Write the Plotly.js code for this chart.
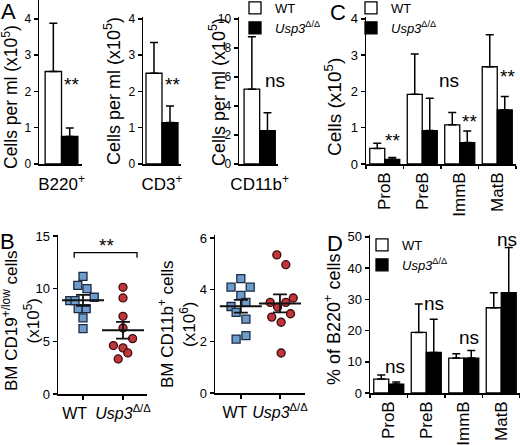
<!DOCTYPE html>
<html><head><meta charset="utf-8">
<script src="https://cdn.plot.ly/plotly-3.0.1.min.js"></script>
<style>html,body{margin:0;padding:0;background:#fff}#plot{width:520px;height:445px}</style>
</head><body><div id="plot"></div>
<script>
// ---------- data ----------
// Panel A: cells per ml (x10^5)
const catA1 = ['B220<sup>+</sup>'];
const catA2 = ['CD3<sup>+</sup>'];
const catA3 = ['CD11b<sup>+</sup>'];
const wtA = [2.55, 2.50, 5.16];
const koA = [0.76, 1.14, 2.30];
const wtAerr = [1.33, 0.85, 3.62];
const koAerr = [0.23, 0.46, 1.24];

// Panel B: BM CD19+/low (x10^5) and CD11b+ (x10^6)
const groupsB = ['WT', '<i>Usp3</i><sup>Δ/Δ</sup>'];
const wtCD19 = [11.18, 10.32, 10.0, 9.19, 8.87, 8.87, 8.1, 8.1, 7.23, 6.21];
const wtCD19jit = [0, -0.13, 0.1, 0.28, -0.33, -0.2, -0.12, 0.08, 0, 0];
const koCD19 = [10.13, 9.12, 7.38, 6.27, 5.26, 4.6, 4.38, 3.9, 3.33];
const koCD19jit = [0, 0, 0, 0, 0.24, -0.24, 0, 0.12, -0.12];
const meanCD19 = [8.9, 6.05];
const semCD19 = [0.52, 0.8];
const wtCD11 = [4.43, 4.10, 4.10, 3.78, 3.51, 3.35, 3.12, 2.86, 2.22, 2.09];
const wtCD11jit = [0, -0.25, 0.24, 0, 0.13, -0.25, -0.12, 0.13, 0.13, -0.12];
const koCD11 = [5.35, 4.97, 3.51, 3.51, 3.68, 3.33, 2.94, 3.07, 2.74, 1.55];
const koCD11jit = [-0.08, 0.15, -0.25, 0.15, 0.34, -0.06, -0.21, 0.27, 0.03, 0.03];
const meanCD11 = [3.36, 3.47];
const semCD11 = [0.25, 0.35];

// Panel C: cells (x10^5); Panel D: % of B220+ cells
const catCD = ['ProB', 'PreB', 'ImmB', 'MatB'];
const wtC = [0.43, 1.92, 1.08, 2.68];
const koC = [0.13, 0.92, 0.59, 1.49];
const wtCerr = [0.14, 1.11, 0.34, 0.88];
const koCerr = [0.05, 0.89, 0.32, 0.37];
const wtD = [4.47, 19.4, 11.2, 27.3];
const koD = [2.87, 13.0, 11.2, 32.1];
const wtDerr = [1.27, 9.1, 1.35, 4.8];
const koDerr = [0.64, 10.6, 2.4, 14.5];

// ---------- layout helpers ----------
const W = 520, H = 445;
const fx = p => p / W;
const fy = p => 1 - p / H;
const FONT = 'Liberation Sans, Arial, sans-serif';
const KO_NAME = '<i>Usp3</i><sup>Δ/Δ</sup>';
const zeros = n => new Array(n).fill(0);

function errUp(arr) {
  return {type: 'data', symmetric: false, array: arr, arrayminus: zeros(arr.length),
          color: '#000', thickness: 1.5, width: 4};
}
function barPair(cat, wt, ko, we, ke, xa, ya, legend, show) {
  return [
    {type: 'bar', x: cat, y: wt, name: 'WT', xaxis: xa, yaxis: ya, legend: legend, showlegend: show,
     marker: {color: '#fff', line: {color: '#000', width: 1.3}}, error_y: errUp(we)},
    {type: 'bar', x: cat, y: ko, name: KO_NAME, xaxis: xa, yaxis: ya, legend: legend, showlegend: show,
     marker: {color: '#000', line: {color: '#000', width: 1.3}}, error_y: errUp(ke)}
  ];
}
function dots(vals, jit, idx, sym, fill, edge, xa, ya) {
  return {type: 'scatter', mode: 'markers', x: vals.map((v, i) => idx + jit[i]), y: vals,
          xaxis: xa, yaxis: ya, showlegend: false, hoverinfo: 'y',
          marker: {symbol: sym, size: 8, color: fill, line: {color: edge, width: 1.3}}};
}
function meanSem(mean, sem, xa, ya) {
  return {type: 'scatter', mode: 'markers', x: [0, 1], y: mean, xaxis: xa, yaxis: ya, showlegend: false,
          marker: {symbol: 'line-ew', size: 30, color: '#111', line: {color: '#111', width: 2}},
          error_y: {type: 'data', array: sem, color: '#111', thickness: 1.8, width: 7}};
}

const traces = [].concat(
  barPair(catA1, [wtA[0]], [koA[0]], [wtAerr[0]], [koAerr[0]], 'x', 'y', 'legend', true),
  barPair(catA2, [wtA[1]], [koA[1]], [wtAerr[1]], [koAerr[1]], 'x2', 'y2', 'legend', false),
  barPair(catA3, [wtA[2]], [koA[2]], [wtAerr[2]], [koAerr[2]], 'x3', 'y3', 'legend', false),
  barPair(catCD, wtC, koC, wtCerr, koCerr, 'x4', 'y4', 'legend2', true),
  barPair(catCD, wtD, koD, wtDerr, koDerr, 'x7', 'y7', 'legend3', true),
  [
    dots(wtCD19, wtCD19jit, 0, 'square', '#6f9dcb', '#1c2b45', 'x5', 'y5'),
    dots(koCD19, koCD19jit, 1, 'circle', '#c0363b', '#3a0b0e', 'x5', 'y5'),
    meanSem(meanCD19, semCD19, 'x5', 'y5'),
    dots(wtCD11, wtCD11jit, 0, 'square', '#6f9dcb', '#1c2b45', 'x6', 'y6'),
    dots(koCD11, koCD11jit, 1, 'circle', '#c0363b', '#3a0b0e', 'x6', 'y6'),
    meanSem(meanCD11, semCD11, 'x6', 'y6')
  ]
);

const axBase = {showline: true, linecolor: '#000', linewidth: 1.5, showgrid: false, zeroline: false,
                ticks: 'outside', ticklen: 4, tickwidth: 1.5, tickcolor: '#000',
                tickfont: {family: FONT, size: 13, color: '#000'}, fixedrange: true};
function yax(dom, range, dtick, anchor, size) {
  return Object.assign({}, axBase, {domain: [fy(dom[1]), fy(dom[0])], range: range, dtick: dtick,
                        tick0: 0, anchor: anchor, tickfont: {family: FONT, size: size || 13, color: '#000'}});
}
function xaxCat(dom, range, anchor, extra) {
  return Object.assign({}, axBase, {domain: [fx(dom[0]), fx(dom[1])], range: range, type: 'category',
                        anchor: anchor, tickfont: {family: FONT, size: 17, color: '#000'}}, extra || {});
}
// group axis: tick marks at the groups (minor ticks), labels placed as in the original figure
function xaxLin(dom, range, anchor, labelPos) {
  return Object.assign({}, axBase, {domain: [fx(dom[0]), fx(dom[1])], range: range, anchor: anchor,
                        tickmode: 'array', tickvals: labelPos, ticktext: groupsB, tickangle: 0, ticks: '',
                        ticklabelstandoff: 4,
                        minor: {tickmode: 'array', tickvals: [0, 1], ticks: 'outside', ticklen: 4,
                                tickwidth: 1.5, tickcolor: '#000', showgrid: false},
                        tickfont: {family: FONT, size: 16, color: '#000'}});
}

function ann(text, px, py, size, extra) {
  return Object.assign({text: text, x: fx(px), y: fy(py), xref: 'paper', yref: 'paper',
          showarrow: false, xanchor: 'center', yanchor: 'middle',
          font: {family: FONT, size: size, color: '#000'}}, extra || {});
}
const rot = {textangle: -90};

const legendBase = {bgcolor: 'rgba(0,0,0,0)', borderwidth: 0, xanchor: 'left', yanchor: 'top',
                    font: {family: FONT, size: 13, color: '#000'}, itemwidth: 30, tracegroupgap: 0};

const layout = {
  width: W, height: H, margin: {l: 0, r: 0, t: 0, b: 0, autoexpand: false},
  paper_bgcolor: '#fff', plot_bgcolor: 'rgba(0,0,0,0)',
  barmode: 'group', bargap: 0.2, bargroupgap: 0, showlegend: true,
  font: {family: FONT, color: '#000'},
  legend: Object.assign({}, legendBase, {x: fx(235), y: fy(-7)}),
  legend2: Object.assign({}, legendBase, {x: fx(351), y: fy(-7)}),
  legend3: Object.assign({}, legendBase, {x: fx(362), y: fy(230)}),
  xaxis: xaxCat([39, 82], [-0.55, 0.5], 'y', {ticks: '', ticklabelstandoff: 4}),
  yaxis: yax([0, 164], [0, 4.52], 1, 'x', 12),
  xaxis2: xaxCat([143, 181], [-0.475, 0.475], 'y2', {ticks: '', ticklabelstandoff: 4}),
  yaxis2: yax([17, 164], [0, 4.05], 1, 'x2', 12),
  xaxis3: xaxCat([239, 278], [-0.53, 0.47], 'y3', {ticks: '', ticklabelstandoff: 4}),
  yaxis3: yax([17, 164], [0, 10.14], 2, 'x3', 12),
  xaxis4: xaxCat([366, 516], [-0.5, 3.5], 'y4', {tickson: 'boundaries', ticklen: 3, tickangle: -90}),
  yaxis4: yax([17, 164], [0, 4.05], 1, 'x4', 13),
  xaxis5: xaxLin([58, 147], [-0.625, 1.6], 'y5', [-0.21, 1]),
  yaxis5: yax([235, 394], [0, 15.1], 5, 'x5', 13),
  xaxis6: xaxLin([215, 305], [-0.66, 1.64], 'y6', [-0.15, 1]),
  yaxis6: yax([235, 393], [0, 6.12], 2, 'x6', 13),
  xaxis7: xaxCat([370, 520], [-0.5, 3.5], 'y7', {tickson: 'boundaries', ticklen: 3, tickangle: -90}),
  yaxis7: yax([235, 393], [0, 50.6], 10, 'x7', 13),
  shapes: [
    {type: 'path', xref: 'x5', yref: 'y5', path: 'M -0.22,12.95 L -0.22,13.43 L 1.35,13.43 L 1.35,12.95',
     line: {color: '#000', width: 1.3}}
  ],
  annotations: [
    ann('A', 8, 11, 22), ann('B', 7, 242, 22), ann('C', 338, 12, 22), ann('D', 335, 243, 22),
    ann('Cells per ml (x10<sup>5</sup>)', 10, 97, 17.5, rot),
    ann('Cells per ml (x10<sup>5</sup>)', 112, 91, 18, rot),
    ann('Cells per ml (x10<sup>5</sup>)', 217, 92, 18, rot),
    ann('BM CD19<sup>+/low</sup> cells<br>(x10<sup>5</sup>)', 21, 321, 17, rot),
    ann('BM CD11b<sup>+</sup> cells<br>(x10<sup>6</sup>)', 177, 324, 17, rot),
    ann('Cells (x10<sup>5</sup>)', 333, 107, 19, rot),
    ann('% of B220<sup>+</sup> cells', 332, 320, 18, rot),
    ann('**', 71, 84, 19), ann('**', 172, 84, 19), ann('ns', 275, 81, 19),
    ann('**', 106, 245, 19),
    ann('**', 392, 140, 19), ann('ns', 449, 80, 19), ann('**', 469, 122, 19), ann('**', 507, 77, 19),
    ann('ns', 395, 366, 19), ann('ns', 434, 303, 19), ann('ns', 469, 337, 19), ann('ns', 507, 239, 19)
  ]
};

Plotly.newPlot('plot', traces, layout, {staticPlot: true, displayModeBar: false});
</script></body></html>
